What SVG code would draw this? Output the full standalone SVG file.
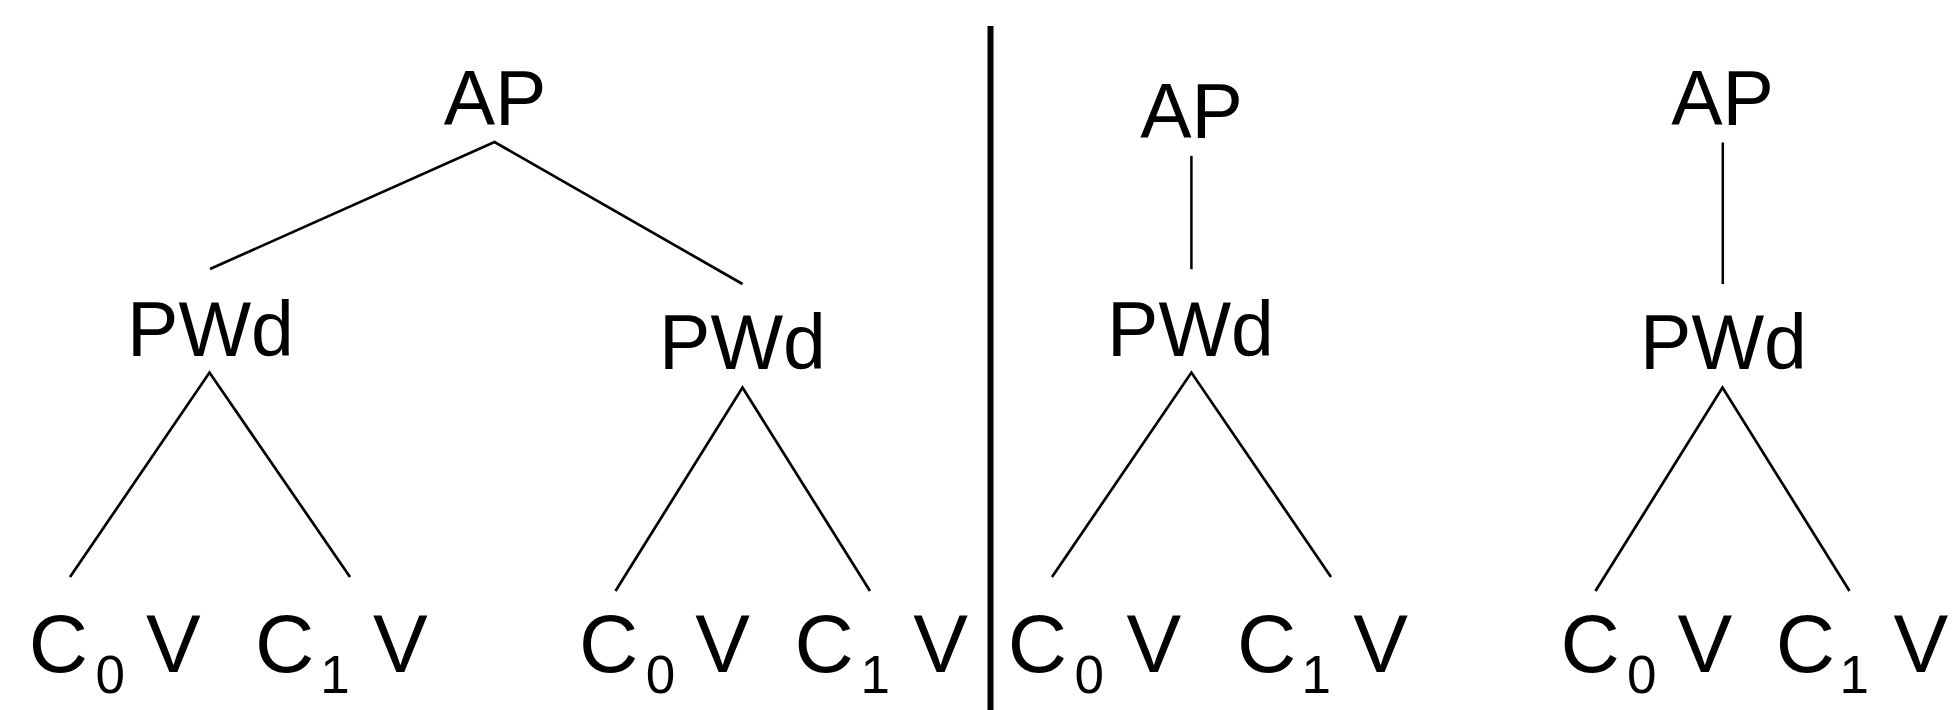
<svg xmlns="http://www.w3.org/2000/svg" width="1954" height="710" viewBox="0 0 1954 710">
  <style>
    .lbl { font-family: "Liberation Sans", Arial, sans-serif; font-size: 77px; fill: #000; }
    .seg { font-family: "Liberation Sans", Arial, sans-serif; font-size: 82px; fill: #000; }
    .mid { text-anchor: middle; }
    .sub { font-family: "Liberation Sans", Arial, sans-serif; font-size: 53px; fill: #000; }
    .edge { fill: none; stroke: #000; stroke-width: 2.7; stroke-linejoin: miter; }
    .vert { fill: none; stroke: #000; stroke-width: 2.5; }
  </style>
  <rect width="1954" height="710" fill="#fff"/>
  <g id="connectors">
    <polyline class="edge" points="210,269 494.5,142 742.5,284"/>
    <polyline class="edge" points="70,577 209.5,372.6 350,577"/>
    <polyline class="edge" points="615.5,591 742.5,387.6 870,591"/>
    <line class="vert" x1="1191.4" y1="155.8" x2="1191.4" y2="269.2"/>
    <polyline class="edge" points="1052,577 1191.4,372.6 1331,577"/>
    <line class="vert" x1="1722.8" y1="142.5" x2="1722.8" y2="284.1"/>
    <polyline class="edge" points="1595.5,591 1722.5,387.6 1849.5,591"/>
  </g>
  <line id="divider" x1="990.5" y1="26" x2="990.5" y2="710" stroke="#000" stroke-width="6"/>
  <g id="ap1"><text class="lbl mid" x="495" y="125">AP</text></g>
  <g id="pwd1"><text class="lbl mid" x="210.5" y="355.5">PWd</text></g>
  <g id="pwd2"><text class="lbl mid" x="742.5" y="369">PWd</text></g>
  <g id="ap3"><text class="lbl mid" x="1191.5" y="137.5">AP</text></g>
  <g id="pwd3"><text class="lbl mid" x="1190.5" y="355.5">PWd</text></g>
  <g id="ap4"><text class="lbl mid" x="1722.5" y="125">AP</text></g>
  <g id="pwd4"><text class="lbl mid" x="1723.5" y="369">PWd</text></g>
  <g id="seg1">
    <text class="seg" x="28.7" y="671.5">C</text><text class="sub" x="95.5" y="692.5">0</text>
    <text class="seg" x="146" y="671.5">V</text>
    <text class="seg" x="255" y="671.5">C</text><text class="sub" x="320.3" y="692.5">1</text>
    <text class="seg" x="373" y="671.5">V</text>
  </g>
  <g id="seg2">
    <text class="seg" x="579" y="671.5">C</text><text class="sub" x="645.8" y="692.5">0</text>
    <text class="seg" x="695.2" y="671.5">V</text>
    <text class="seg" x="794.6" y="671.5">C</text><text class="sub" x="860.4" y="692.5">1</text>
    <text class="seg" x="913.3" y="671.5">V</text>
  </g>
  <g id="seg3">
    <text class="seg" x="1007.8" y="671.5">C</text><text class="sub" x="1074.5" y="692.5">0</text>
    <text class="seg" x="1126.4" y="671.5">V</text>
    <text class="seg" x="1237" y="671.5">C</text><text class="sub" x="1301.6" y="692.5">1</text>
    <text class="seg" x="1353.2" y="671.5">V</text>
  </g>
  <g id="seg4">
    <text class="seg" x="1560.5" y="671.5">C</text><text class="sub" x="1627" y="692.5">0</text>
    <text class="seg" x="1677.5" y="671.5">V</text>
    <text class="seg" x="1775.8" y="671.5">C</text><text class="sub" x="1839.5" y="692.5">1</text>
    <text class="seg" x="1893.5" y="671.5">V</text>
  </g>
</svg>
